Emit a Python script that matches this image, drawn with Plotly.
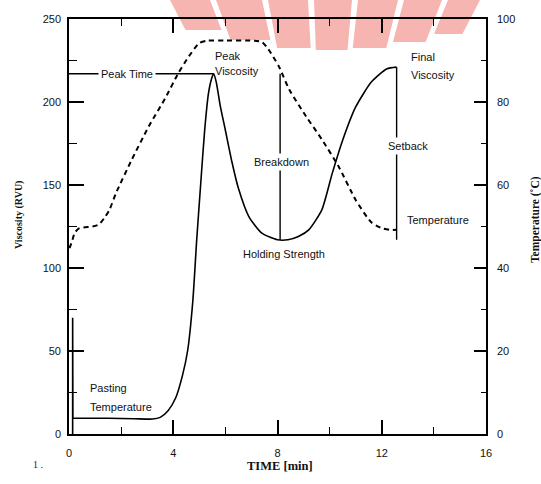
import plotly.graph_objects as go

# ---- data (RVA pasting profile) ----
spike_time = [0.14, 0.14, 0.15]
spike_visc = [0, 70, 9.5]

time_visc = [0.15, 0.5, 1.5, 2.5, 3.2, 3.5, 3.8, 4.1, 4.35, 4.55, 4.75,
             4.9, 5.05, 5.2, 5.35, 5.47, 5.55, 5.65, 5.8, 6.0, 6.25, 6.5, 6.9, 7.4,
             8.0, 8.4, 8.8, 9.2, 9.7, 10.1, 10.5, 11.0, 11.6, 12.2, 12.57]
visc = [9.5, 9.5, 9.5, 9.2, 9, 10, 14, 22, 35, 50, 80,
        117, 150, 182, 205, 214, 217, 212, 198, 183, 164, 148, 131, 121,
        117, 117, 119, 123, 135, 157, 177, 197, 212, 220, 221]

time_temp = [0.02, 0.12, 0.22, 0.4, 0.9, 1.15, 1.35, 1.55, 1.8, 2.4, 3.05, 3.7, 4.2,
             4.6, 5.0, 5.3, 6.0, 7.0, 7.4, 7.65, 8.05, 8.45, 9.1, 9.7, 10.35, 11.0,
             11.6, 12.0, 12.3, 12.58]
temp = [44.8, 46.5, 48.5, 49.6, 50, 50.5, 52, 54, 58, 66, 74, 81, 87,
        91, 94.2, 94.8, 94.8, 94.8, 94.5, 92.7, 88.6, 83, 76.5, 71, 64.4, 56.4,
        51, 49.6, 49.2, 49.2]

peak_time = 5.55
peak_visc = 217
trough_time = 8.1
trough_visc = 117
final_time = 12.57
final_visc = 221

x_ticks = [0, 4, 8, 12, 16]
visc_ticks = [0, 50, 100, 150, 200, 250]
temp_ticks = [0, 20, 40, 60, 80, 100]

# ---- geometry helpers (pixel -> paper) ----
W, H = 541, 484
L, R, T, B = 69, 486, 19, 434


def px(x):
    return (x - L) / (R - L)


def py(y):
    return (B - y) / (B - T)


fig = go.Figure()

fig.add_trace(go.Scatter(x=spike_time, y=spike_visc, mode="lines",
                         line=dict(color="black", width=1.6), showlegend=False))
fig.add_trace(go.Scatter(x=time_visc, y=visc, mode="lines",
                         line=dict(color="black", width=1.6, shape="spline",
                                   smoothing=0.6),
                         showlegend=False))
fig.add_trace(go.Scatter(x=time_temp, y=temp, mode="lines", yaxis="y2",
                         line=dict(color="black", width=2, dash="5px,4px",
                                   shape="spline", smoothing=0.6),
                         showlegend=False))
# peak time line
fig.add_trace(go.Scatter(x=[0, peak_time], y=[peak_visc, peak_visc], mode="lines",
                         line=dict(color="black", width=1.4), showlegend=False))
# breakdown line
fig.add_trace(go.Scatter(x=[trough_time, trough_time], y=[peak_visc, trough_visc],
                         mode="lines", line=dict(color="black", width=1.4),
                         showlegend=False))
# setback line
fig.add_trace(go.Scatter(x=[final_time, final_time], y=[final_visc, trough_visc],
                         mode="lines", line=dict(color="black", width=1.4),
                         showlegend=False))

# ---- watermark stripes (fan) ----
shapes = []
stripes = [(170, 210, 30), (216, 262, 40), (268, 308, 48), (314, 352, 50),
           (358, 398, 48), (404, 442, 42), (448, 480, 34)]
cx, cy = 325, 300
for x0, x1, yb in stripes:
    f = (cy - yb) / cy
    bx0 = cx + (x0 - cx) * f
    bx1 = cx + (x1 - cx) * f
    path = "M {} {} L {} {} L {} {} L {} {} Z".format(
        px(x0), py(0), px(x1), py(0), px(bx1), py(yb), px(bx0), py(yb))
    shapes.append(dict(type="path", path=path, xref="paper", yref="paper",
                       fillcolor="rgba(232,70,60,0.40)", line=dict(width=0),
                       layer="below"))

txt = dict(family="Liberation Sans, Arial, sans-serif", size=11, color="#111")
ann = []


def a(text, x, y, xanchor="left", bg=None, **kw):
    d = dict(text=text, x=x, y=y, xref="x", yref="y", showarrow=False,
             xanchor=xanchor, yanchor="middle", font=txt)
    if bg:
        d["bgcolor"] = bg
        d["borderpad"] = 2
    d.update(kw)
    ann.append(d)


a("Peak Time", 2.23, peak_visc, xanchor="center", bg="white")
a("Peak", 5.53, 227.7)
a("Viscosity", 5.53, 218.5)
a("Breakdown", 6.98, 164, bg="white")
a("Holding Strength", 8.25, 108.4, xanchor="center")
a("Setback", 12.99, 173.5, xanchor="center", bg="white")
a("Final", 13.05, 227.1)
a("Viscosity", 13.05, 216.3)
a("Temperature", 12.89, 128.9)
a("Pasting", 0.73, 27.7)
a("Temperature", 0.73, 16.3)

serif = dict(family="Liberation Serif, Times New Roman, serif", size=10, color="#111")
ann.append(dict(text="<b>Viscosity (RVU)</b>", x=px(19), y=py(215), xref="paper",
                yref="paper", showarrow=False, textangle=-90, font=serif,
                xanchor="center", yanchor="middle"))
ann.append(dict(text="<b>TIME [min]</b>", x=px(280), y=py(466), xref="paper",
                yref="paper", showarrow=False,
                font=dict(family=serif["family"], size=12.5, color="#111"),
                xanchor="center", yanchor="middle"))
ann.append(dict(text="<b>Temperature (˚C)</b>", x=px(536), y=py(220), xref="paper",
                yref="paper", showarrow=False, textangle=-90,
                font=dict(family=serif["family"], size=11.5, color="#111"),
                xanchor="center", yanchor="middle"))
ann.append(dict(text="1 .", x=px(38), y=py(464), xref="paper", yref="paper",
                showarrow=False, font=dict(family=serif["family"], size=10, color="#222"),
                xanchor="center", yanchor="middle"))

tickfont = dict(family="Liberation Sans, Arial, sans-serif", size=11, color="#111")
axline = dict(showline=True, linecolor="black", linewidth=1.6, showgrid=False,
              zeroline=False, tickcolor="black", tickfont=tickfont)

fig.update_layout(
    width=W, height=H, autosize=False,
    margin=dict(l=L, r=W - R, t=T, b=H - B, pad=0),
    paper_bgcolor="white", plot_bgcolor="rgba(0,0,0,0)",
    shapes=shapes, annotations=ann,
    xaxis=dict(range=[0, 16], tickvals=x_ticks, ticks="inside", ticklen=14,
               tickwidth=1.5, mirror="ticks", ticklabelstandoff=8,
               minor=dict(dtick=2, tick0=0, ticks="inside", ticklen=7, tickwidth=1.2,
                          tickcolor="black", showgrid=False),
               **axline),
    yaxis=dict(range=[0, 250], tickvals=visc_ticks, ticks="inside", ticklen=15,
               tickwidth=1.5, ticklabelstandoff=4,
               minor=dict(dtick=25, tick0=0, ticks="inside", ticklen=8, tickwidth=1.2,
                          tickcolor="black", showgrid=False),
               **axline),
    yaxis2=dict(range=[0, 100], tickvals=temp_ticks, overlaying="y", side="right",
                ticks="inside", ticklen=12, tickwidth=1.5, ticklabelstandoff=7,
                minor=dict(dtick=10, tick0=0, ticks="inside", ticklen=5, tickwidth=1.2,
                           tickcolor="black", showgrid=False),
                **axline),
)

fig.write_html("out.html")
